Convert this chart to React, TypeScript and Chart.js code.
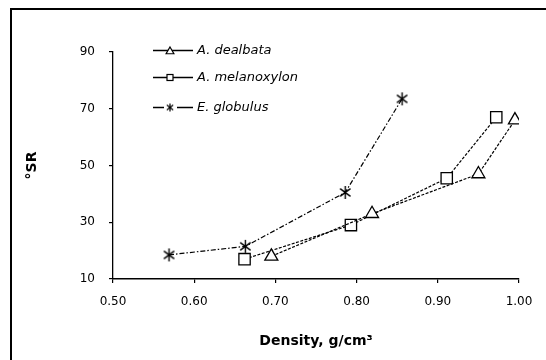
import React, { useEffect, useRef } from "react";
import { Chart, registerables } from "chart.js";

Chart.register(...registerables);

// Freeness (°SR) against wood density for three species
const seriesNames = ["A. dealbata", "A. melanoxylon", "E. globulus"];
const dealbataDensity = [0.695, 0.819, 0.95, 0.995];
const dealbataSR = [18, 33, 47, 66];
const melanoxylonDensity = [0.662, 0.793, 0.911, 0.972];
const melanoxylonSR = [17, 29, 45.5, 67];
const globulusDensity = [0.569, 0.663, 0.786, 0.856];
const globulusSR = [18.5, 21.5, 40.5, 73.5];

const xTicks = [0.5, 0.6, 0.7, 0.8, 0.9, 1.0];
const yTicks = [10, 30, 50, 70, 90];
const xTitle = "Density, g/cm³";
const yTitle = "°SR";

const INK = "#000";
const FONT = "'DejaVu Sans', 'Liberation Sans', Arial, sans-serif";

function makeAsterisk(size: number, width: number): HTMLCanvasElement {
  const c = document.createElement("canvas");
  c.width = size;
  c.height = size;
  const g = c.getContext("2d")!;
  g.strokeStyle = INK;
  g.lineWidth = width;
  const m = size / 2;
  const r = size / 2 - 1;
  g.beginPath();
  g.moveTo(m, m - r);
  g.lineTo(m, m + r);
  for (const a of [Math.PI / 3.4, -Math.PI / 3.4]) {
    const dx = Math.sin(a) * r;
    const dy = Math.cos(a) * r;
    g.moveTo(m + dx, m - dy);
    g.lineTo(m - dx, m + dy);
  }
  g.stroke();
  return c;
}

function drawTriangle(ctx: CanvasRenderingContext2D, x: number, y: number, r: number) {
  ctx.beginPath();
  for (let k = 0; k < 3; k++) {
    const a = (k * 2 * Math.PI) / 3;
    const px = x + Math.sin(a) * r;
    const py = y - Math.cos(a) * r;
    if (k === 0) ctx.moveTo(px, py);
    else ctx.lineTo(px, py);
  }
  ctx.closePath();
  ctx.fillStyle = "#fff";
  ctx.fill();
  ctx.stroke();
}

function drawSquare(ctx: CanvasRenderingContext2D, x: number, y: number, half: number) {
  ctx.fillStyle = "#fff";
  ctx.fillRect(x - half, y - half, half * 2, half * 2);
  ctx.strokeRect(x - half, y - half, half * 2, half * 2);
}

export default function App() {
  const canvasRef = useRef<HTMLCanvasElement | null>(null);

  useEffect(() => {
    const canvas = canvasRef.current;
    if (!canvas) return;

    const asteriskBig = makeAsterisk(15, 1.4);
    const asteriskSmall = makeAsterisk(10, 1.2);

    // Legend drawn inside the plot area, top-left
    const insetLegend = {
      id: "insetLegend",
      afterDraw(chart: any) {
        const { ctx, chartArea } = chart;
        const x0 = chartArea.left + 40;
        const x1 = x0 + 40;
        const mx = x0 + 17;
        const textX = x0 + 44;
        const rows = [chartArea.top - 2, chartArea.top + 25, chartArea.top + 55];
        ctx.save();
        ctx.strokeStyle = INK;
        ctx.lineWidth = 1.3;
        chart.data.datasets.forEach((ds: any, i: number) => {
          const y = Math.round(rows[i]) + 0.5;
          ctx.beginPath();
          if (i === 2) {
            ctx.moveTo(x0, y);
            ctx.lineTo(x0 + 11, y);
            ctx.moveTo(x0 + 24, y);
            ctx.lineTo(x1, y);
          } else {
            ctx.moveTo(x0, y);
            ctx.lineTo(x1, y);
          }
          ctx.stroke();
          ctx.lineWidth = 1.2;
          if (i === 0) drawTriangle(ctx, mx, y + 1, 4.5);
          else if (i === 1) drawSquare(ctx, mx, y, 3);
          else ctx.drawImage(asteriskSmall, mx - 5, y - 5);
          ctx.lineWidth = 1.3;
          ctx.fillStyle = INK;
          ctx.font = `italic 13px ${FONT}`;
          ctx.textBaseline = "middle";
          ctx.textAlign = "left";
          ctx.fillText(ds.label, textX, y);
        });
        ctx.restore();
      },
    };

    const toPoints = (xs: number[], ys: number[]) => xs.map((x, i) => ({ x, y: ys[i] }));

    const chart = new Chart(canvas, {
      type: "scatter",
      data: {
        datasets: [
          {
            label: seriesNames[0],
            data: toPoints(dealbataDensity, dealbataSR),
            showLine: true,
            borderColor: INK,
            borderWidth: 1.2,
            borderDash: [3, 1.5],
            pointStyle: "triangle",
            pointRadius: 7.5,
            pointBackgroundColor: "#fff",
            pointBorderColor: INK,
            pointBorderWidth: 1.3,
          },
          {
            label: seriesNames[1],
            data: toPoints(melanoxylonDensity, melanoxylonSR),
            showLine: true,
            borderColor: INK,
            borderWidth: 1.2,
            borderDash: [3, 1.5],
            pointStyle: "rect",
            pointRadius: 8,
            pointBackgroundColor: "#fff",
            pointBorderColor: INK,
            pointBorderWidth: 1.3,
          },
          {
            label: seriesNames[2],
            data: toPoints(globulusDensity, globulusSR),
            showLine: true,
            borderColor: INK,
            borderWidth: 1.2,
            borderDash: [5, 2, 1.5, 2],
            pointStyle: asteriskBig as any,
            pointRadius: 7,
          },
        ],
      },
      options: {
        responsive: false,
        animation: false,
        events: [],
        layout: { padding: { left: 0, top: 52, right: 27, bottom: 0 } },
        plugins: {
          legend: { display: false },
          tooltip: { enabled: false },
          title: { display: false },
        },
        scales: {
          x: {
            type: "linear",
            position: "bottom",
            min: 0.5,
            max: 1.0,
            afterBuildTicks: (s: any) => {
              s.ticks = xTicks.map((v) => ({ value: v }));
            },
            afterFit: (s: any) => {
              s.height = 81;
            },
            grid: {
              display: true,
              drawOnChartArea: false,
              drawTicks: true,
              tickLength: 4,
              color: INK,
              lineWidth: 1.2,
            },
            border: { display: true, color: INK, width: 1.6 },
            ticks: {
              autoSkip: false,
              maxRotation: 0,
              padding: 12,
              color: INK,
              font: { family: FONT, size: 12 },
              callback: (v: any) => Number(v).toFixed(2),
            },
            title: {
              display: true,
              text: xTitle,
              color: INK,
              font: { family: FONT, size: 14, weight: "bold" },
              padding: { top: 4, bottom: 10 },
            },
          },
          y: {
            type: "linear",
            position: "left",
            min: 10,
            max: 90,
            afterBuildTicks: (s: any) => {
              s.ticks = yTicks.map((v) => ({ value: v }));
            },
            afterFit: (s: any) => {
              s.width = 113;
            },
            grid: {
              display: true,
              drawOnChartArea: false,
              drawTicks: true,
              tickLength: 4,
              color: INK,
              lineWidth: 1.2,
            },
            border: { display: true, color: INK, width: 1.3 },
            ticks: {
              autoSkip: false,
              padding: 14,
              color: INK,
              font: { family: FONT, size: 12 },
              callback: (v: any) => String(v),
            },
            title: {
              display: true,
              text: yTitle,
              color: INK,
              font: { family: FONT, size: 14, weight: "bold" },
              padding: { top: 24, bottom: 0 },
            },
          },
        },
      },
      plugins: [insetLegend],
    });

    return () => {
      chart.destroy();
    };
  }, []);

  return (
    <div
      style={{
        position: "absolute",
        left: 0,
        top: 0,
        width: 546,
        height: 360,
        background: "#fff",
        overflow: "hidden",
      }}
    >
      <canvas ref={canvasRef} width={546} height={360} style={{ display: "block" }} />
      <div
        style={{
          position: "absolute",
          left: 10,
          top: 8,
          width: 600,
          height: 400,
          borderLeft: "2px solid #000",
          borderTop: "2px solid #000",
          pointerEvents: "none",
        }}
      />
    </div>
  );
}
